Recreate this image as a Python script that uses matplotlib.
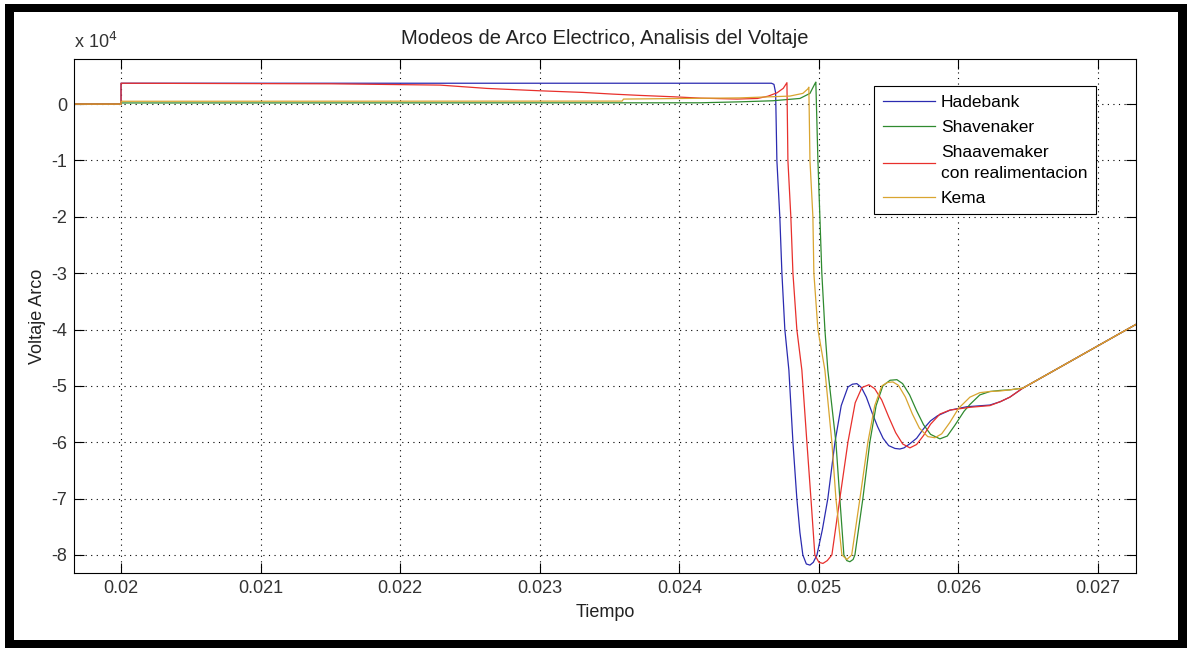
import numpy as np
import matplotlib
matplotlib.use('Agg')
import matplotlib.pyplot as plt
from matplotlib.patches import Rectangle

plt.rcParams['font.family'] = ['Liberation Sans', 'DejaVu Sans']

W, H = 1188, 648

# time is given in ms after t = 0.02 s, voltage in V
m_hade = [-0.337, 0, 0, 4.660, 4.678, 4.690, 4.699, 4.720, 4.735, 4.756, 4.785, 4.814,
          4.842, 4.864, 4.885, 4.910, 4.936, 4.960, 4.986, 5.025, 5.064, 5.115, 5.160,
          5.208, 5.240, 5.272, 5.305, 5.340, 5.380, 5.420, 5.460, 5.500, 5.545, 5.580,
          5.610, 5.650, 5.700, 5.750, 5.800, 5.850, 5.940, 6.060, 6.225, 6.300, 6.368, 6.461]
v_hade = [0, 0, 3700, 3700, 3500, 2000, -10000, -20000, -30000, -40000, -47200, -60000,
          -70000, -76000, -80000, -81600, -81800, -81300, -80000, -75500, -70000, -60000, -53500,
          -50200, -49700, -49600, -50300, -52000, -54700, -57200, -59300, -60600, -61100, -61200,
          -61000, -60300, -59300, -57600, -56200, -55300, -54300, -53700, -53400, -52800, -52000, -50400]

m_shav = [-0.337, 0, 0, 4.148, 4.434, 4.670, 4.864, 4.936, 4.971, 4.978, 4.993, 5.007,
          5.021, 5.043, 5.064, 5.122, 5.150, 5.179, 5.200, 5.222, 5.245, 5.258, 5.315, 5.365,
          5.410, 5.458, 5.510, 5.559, 5.600, 5.650, 5.700, 5.750, 5.800, 5.867, 5.920, 5.974,
          6.040, 6.082, 6.153, 6.225, 6.300, 6.368, 6.461]
v_shav = [0, 0, 200, 230, 400, 590, 1000, 1900, 3600, 3900, -10000, -20000,
          -30000, -40000, -47200, -60000, -70000, -80000, -81000, -81200, -80800, -80000, -70000, -60000,
          -53500, -50000, -49000, -48900, -49600, -51600, -54400, -56900, -58600, -59400, -58900, -57000,
          -54500, -53300, -51600, -51000, -50800, -50700, -50400]

m_real = [-0.337, 0, 0, 1.500, 2.285, 2.622, 3.001, 3.309, 3.524, 3.718, 3.954, 4.148,
          4.413, 4.560, 4.635, 4.700, 4.745, 4.771, 4.778, 4.799, 4.814, 4.842, 4.878, 4.914,
          4.943, 4.971, 5.000, 5.029, 5.060, 5.093, 5.150, 5.208, 5.260, 5.308, 5.358, 5.400,
          5.450, 5.500, 5.550, 5.600, 5.652, 5.700, 5.750, 5.800, 5.867, 5.938, 6.082, 6.225,
          6.300, 6.368, 6.461]
v_real = [0, 0, 3700, 3600, 3370, 2780, 2360, 2070, 1770, 1540, 1300, 1060,
          890, 1000, 1400, 2000, 2800, 3800, -10000, -20000, -30000, -40000, -47200, -60000,
          -70000, -80000, -81300, -81500, -81000, -80000, -70000, -60000, -53000, -50300, -49800, -50500,
          -52500, -55500, -58300, -60300, -61000, -60400, -58800, -56800, -55000, -54300, -53800, -53500,
          -52800, -52000, -50400]

m_kema = [-0.337, 0, 0, 3.590, 3.600, 4.434, 4.792, 4.885, 4.921, 4.928, 4.936, 4.957,
          4.964, 4.993, 5.043, 5.093, 5.122, 5.165, 5.201, 5.235, 5.294, 5.351, 5.400, 5.451,
          5.490, 5.530, 5.570, 5.620, 5.670, 5.720, 5.780, 5.831, 5.880, 5.938, 6.000, 6.082,
          6.153, 6.225, 6.300, 6.368, 6.461]
v_kema = [0, 0, 500, 530, 890, 1100, 1420, 1900, 2700, 3000, -10000, -20000,
          -30000, -40000, -47200, -60000, -70000, -80000, -80800, -80000, -70000, -60000, -53500, -50000,
          -49400, -49300, -49900, -52000, -55000, -57500, -59000, -59200, -58500, -56500, -54000, -52000,
          -51200, -51000, -50900, -50700, -50400]

# all four models settle onto the same recovery ramp
m_tail = [6.490, 6.655, 6.834, 7.013, 7.156, 7.300]
v_tail = [-50000, -47700, -45200, -42700, -40700, -38700]

labels = ['Hadebank', 'Shavenaker', 'Shaavemaker\ncon realimentacion', 'Kema']
colors = ['#2b2bb0', '#2f8a2f', '#e8302c', '#d9a530']

x_ticks = [0.020, 0.021, 0.022, 0.023, 0.024, 0.025, 0.026, 0.027]
x_tick_labels = ['0.02', '0.021', '0.022', '0.023', '0.024', '0.025', '0.026', '0.027']
y_ticks = [0, -1e4, -2e4, -3e4, -4e4, -5e4, -6e4, -7e4, -8e4]
y_tick_labels = ['0', '-1', '-2', '-3', '-4', '-5', '-6', '-7', '-8']


def to_t(m):
    return 0.02 + np.asarray(m) / 1000.0


def fig_xy(x, y):
    return x / W, 1 - y / H


fig = plt.figure(figsize=(W / 100, H / 100), dpi=100)
fig.patch.set_facecolor('white')

ax = fig.add_axes([74 / W, 1 - 573 / H, (1136 - 74) / W, (573 - 59) / H])

series = [(m_hade, v_hade), (m_shav, v_shav), (m_real, v_real), (m_kema, v_kema)]
for (m, v), lab, col in zip(series, labels, colors):
    t = np.concatenate([to_t(m), to_t(m_tail)])
    vv = np.concatenate([v, v_tail])
    ax.plot(t, vv, color=col, lw=0.9, label=lab)

ax.set_xlim(0.019663, 0.027272)
ax.set_ylim(-83200, 8000)
ax.set_xticks(x_ticks)
ax.set_xticklabels(x_tick_labels)
ax.set_yticks(y_ticks)
ax.set_yticklabels(y_tick_labels)
ax.tick_params(direction='in', length=7.5, width=0.8, labelsize=13, pad=5,
               top=True, right=True, colors='black', labelcolor='#333333')
ax.grid(True, color='black', linestyle=(0, (1, 4)), linewidth=0.8)
for s in ax.spines.values():
    s.set_linewidth(0.8)
    s.set_color('black')

ax.annotate('x 10$^{4}$', xy=(0, 1), xycoords='axes fraction', xytext=(0, 5),
            textcoords='offset points', ha='left', va='bottom', fontsize=13, color='#333333')
ax.set_title('Modeos de Arco Electrico, Analisis del Voltaje', fontsize=14.5, pad=11, color='#222222')
ax.set_xlabel('Tiempo', fontsize=13, labelpad=5, color='#222222')
ax.set_ylabel('Voltaje Arco', fontsize=13, labelpad=4, color='#222222')

leg = ax.legend(loc='upper left', bbox_to_anchor=fig_xy(874, 86), bbox_transform=fig.transFigure,
                fontsize=12.5, fancybox=False, framealpha=1, edgecolor='black',
                handlelength=3.0, handletextpad=0.35, labelspacing=0.58, borderpad=0.5,
                borderaxespad=0)
leg.get_frame().set_linewidth(0.8)
for txt in leg.get_texts():
    txt.set_linespacing(1.45)

# thick black frame round the whole figure
for (x0, y0, x1, y1) in [(5, 4, 1187, 12), (5, 640, 1187, 648), (5, 4, 14, 648), (1178, 4, 1187, 648)]:
    fig.patches.append(Rectangle((x0 / W, 1 - y1 / H), (x1 - x0) / W, (y1 - y0) / H,
                                 transform=fig.transFigure, facecolor='black', edgecolor='none'))

fig.savefig('out.png', dpi=100)
